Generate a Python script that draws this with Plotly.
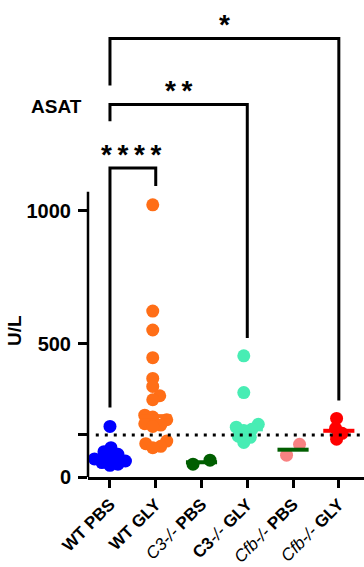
import numpy as np
import plotly.graph_objects as go

# ---------------- data ----------------
groups = ["WT PBS", "WT GLY", "C3-/- PBS", "C3-/- GLY", "Cfb-/- PBS", "Cfb-/- GLY"]
tick_labels = [
    "<b>WT PBS</b>",
    "<b>WT GLY</b>",
    "<i>C3-/-</i> <b>PBS</b>",
    "<b>C3</b><i>-/-</i> <b>GLY</b>",
    "<i>Cfb-/-</i> <b>PBS</b>",
    "<i>Cfb-/-</i> <b>GLY</b>",
]
wt_pbs = [190, 110, 95, 85, 75, 68, 60, 54, 48, 44]
wt_gly = [1022, 623, 552, 448, 370, 340, 305, 290, 232, 225, 215, 200, 195, 190, 135, 125, 115, 110]
c3_pbs = [48, 63]
c3_gly = [455, 317, 198, 187, 179, 175, 153, 149, 130]
cfb_pbs = [82, 123]
cfb_gly = [142, 183, 220, 164]
values = [wt_pbs, wt_gly, c3_pbs, c3_gly, cfb_pbs, cfb_gly]

point_colors = ["#0000FF", "#FF6E17", "#005E00", "#48EDB4", "#F88282", "#FF0000"]
median_colors = ["#0000FF", "#FF6E17", "#005E00", "#48EDB4", "#005E00", "#FF0000"]

threshold = 158
y_tick_vals = [0, threshold, 500, 1000]
y_tick_text = ["<b>0</b>", "", "<b>500</b>", "<b>1000</b>"]

# significance brackets: (left group, right group, top, left-leg bottom, right-leg bottom, label)
T = "\u2009"
brackets = [
    (0, 1, 1160, 261, 1093, T.join("****")),
    (0, 3, 1399, 1336, 522, T.join("**")),
    (0, 5, 1646, 1470, 287, "*"),
]
label_heights = [1239, 1478, 1724]

# ---------------- geometry ----------------
W, H = 364, 567
ML, MR, MT, MB = 88, 0, 0, 87
X_MIN, X_MAX = -0.48, 5.55
Y_MAX = 1791
Y_AXIS_TOP = 1071
PX_X = (W - ML - MR) / (X_MAX - X_MIN)
PX_Y = (H - MT - MB) / Y_MAX
FONT = "Liberation Sans, Arial"


def swarm(vals, d=10.0, step=0.5):
    vals = np.asarray(vals, dtype=float)
    offs = np.zeros(len(vals))
    placed = []
    for idx in np.argsort(vals):
        y = vals[idx] * PX_Y
        cands = [0.0]
        for k in range(1, 300):
            cands += [k * step, -k * step]
        for c in cands:
            if all((c - px) ** 2 + (y - py) ** 2 >= d * d for px, py in placed):
                break
        placed.append((c, y))
        offs[idx] = c
    offs -= (offs.max() + offs.min()) / 2
    return offs / PX_X


fig = go.Figure()

for i, vals in enumerate(values):
    d = 17.0 if len(vals) <= 2 else 8.0
    xs = i + swarm(vals, d=d)
    fig.add_trace(go.Scatter(
        x=xs, y=vals, mode="markers",
        marker=dict(size=13, color=point_colors[i], line=dict(width=0)),
        showlegend=False, hoverinfo="y", cliponaxis=False,
    ))

for i, vals in enumerate(values):
    med = float(np.median(vals))
    fig.add_trace(go.Scatter(
        x=[i - 0.34, i + 0.34], y=[med, med], mode="lines",
        line=dict(color=median_colors[i], width=4),
        showlegend=False, hoverinfo="skip",
    ))

shapes = []
# y axis line (stops below the brackets)
shapes.append(dict(type="line", xref="paper", yref="y", x0=0, x1=0, y0=0, y1=Y_AXIS_TOP,
                   line=dict(color="black", width=2.5)))
# dotted threshold line
shapes.append(dict(type="line", xref="x", yref="y", x0=-0.31, x1=X_MAX, y0=threshold, y1=threshold,
                   line=dict(color="black", width=3, dash="3px,6px")))
for (a, b, top, lb, rb, _) in brackets:
    shapes.append(dict(type="path", xref="x", yref="y",
                       path=f"M {a},{lb} L {a},{top} L {b},{top} L {b},{rb}",
                       line=dict(color="black", width=3)))

annotations = []
for (a, b, top, lb, rb, lab), yy in zip(brackets, label_heights):
    annotations.append(dict(x=(a + b) / 2 + (0.0 if b > 1 else -0.02), y=yy, xref="x", yref="y",
                            text=f"<b>{lab}</b>", showarrow=False, xanchor="center",
                            font=dict(size=28, color="black", family=FONT),
                            yshift=-7))
annotations.append(dict(x=(56 - ML) / (W - ML - MR), y=(480 - 107) / PX_Y, xref="paper", yref="y",
                        text="<b>ASAT</b>", showarrow=False, xanchor="center", yanchor="middle",
                        font=dict(size=19, color="black", family=FONT)))
annotations.append(dict(x=(15 - ML) / (W - ML - MR), y=(480 - 333) / PX_Y, xref="paper", yref="y",
                        text="<b>U/L</b>", showarrow=False, textangle=-90,
                        xanchor="center", yanchor="middle",
                        font=dict(size=19, color="black", family=FONT)))

fig.update_layout(
    width=W, height=H, autosize=False,
    margin=dict(l=ML, r=MR, t=MT, b=MB),
    paper_bgcolor="white", plot_bgcolor="white",
    shapes=shapes, annotations=annotations,
    font=dict(family=FONT, color="black"),
    xaxis=dict(range=[X_MIN, X_MAX], tickvals=list(range(len(groups))), ticktext=tick_labels,
               tickangle=-45, ticks="outside", ticklen=8, tickwidth=2.5, tickcolor="black",
               showline=True, linewidth=2.5, linecolor="black", showgrid=False, zeroline=False,
               tickfont=dict(size=17, color="black")),
    yaxis=dict(range=[0, Y_MAX], tickvals=y_tick_vals, ticktext=y_tick_text,
               ticks="outside", ticklen=9, tickwidth=2.5, tickcolor="black",
               showline=False, showgrid=False, zeroline=False,
               tickfont=dict(size=20, color="black"), ticklabelstandoff=3),
)

fig.write_html("out.html")
